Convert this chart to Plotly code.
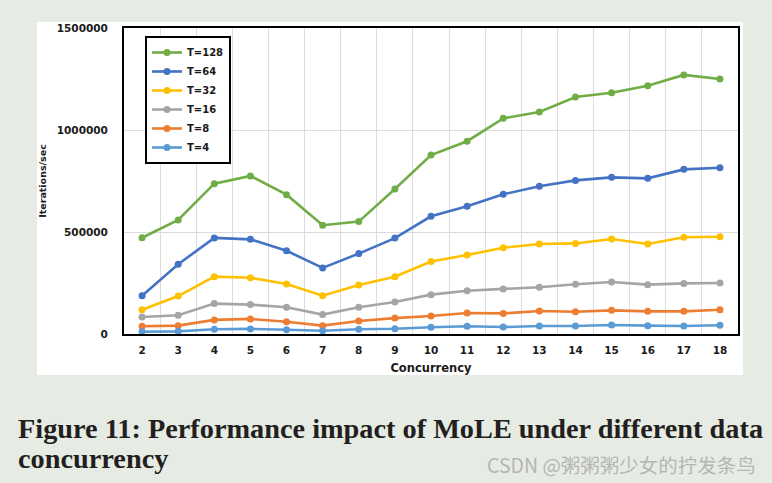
import plotly.graph_objects as go

concurrency = list(range(2, 19))

t128 = [472000, 559000, 737000, 775000, 683000, 533000, 551000, 711000, 877000,
        945000, 1057000, 1088000, 1162000, 1183000, 1217000, 1270000, 1250000]
t64 = [188000, 342000, 471000, 464000, 408000, 324000, 394000, 470000, 577000,
       626000, 685000, 724000, 753000, 768000, 763000, 807000, 815000]
t32 = [119000, 186000, 281000, 276000, 245000, 188000, 240000, 281000, 355000,
       387000, 423000, 441000, 444000, 466000, 441000, 474000, 477000]
t16 = [83000, 92000, 149000, 144000, 131000, 95000, 131000, 157000, 193000,
       212000, 221000, 229000, 244000, 255000, 242000, 248000, 250000]
t8 = [38000, 41000, 69000, 74000, 60000, 41000, 64000, 78000, 88000,
      103000, 101000, 113000, 109000, 116000, 111000, 111000, 119000]
t4 = [11000, 13000, 23000, 25000, 21000, 16000, 23000, 26000, 33000,
      38000, 34000, 39000, 39000, 44000, 41000, 39000, 43000]

series_names = ["T=128", "T=64", "T=32", "T=16", "T=8", "T=4"]
series_values = [t128, t64, t32, t16, t8, t4]
series_colors = ["#70ad47", "#4472c4", "#ffc000", "#a5a5a5", "#ed7d31", "#5b9bd5"]

y_ticks = [0, 500000, 1000000, 1500000]
y_tick_labels = ["0", "500000", "1000000", "1500000"]

caption_line1 = "Figure 11: Performance impact of MoLE under different data"
caption_line2 = "concurrency"
watermark = "CSDN @粥粥粥少女的拧发条鸟"

W, H = 772, 483
ML, MR, MT, MB = 124, 34, 28, 149
PW, PH = W - ML - MR, H - MT - MB


def px_x(px):
    return (px - ML) / PW


def px_y(py):
    return (H - MB - py) / PH


fig = go.Figure()
for name, vals, col in zip(series_names, series_values, series_colors):
    fig.add_trace(go.Scatter(
        x=concurrency, y=vals, name=name, mode="lines+markers",
        line=dict(color=col, width=2.6),
        marker=dict(color=col, size=7),
    ))

tick_font = dict(family="DejaVu Sans", size=10.5, color="#1a1a1a", weight="bold")

fig.update_layout(
    width=W, height=H,
    margin=dict(l=ML, r=MR, t=MT, b=MB, pad=0),
    paper_bgcolor="#e6ece3",
    plot_bgcolor="#ffffff",
    showlegend=True,
    legend=dict(
        x=px_x(145), y=px_y(36), xanchor="left", yanchor="top",
        bgcolor="#ffffff", bordercolor="#000000", borderwidth=2,
        font=dict(family="DejaVu Sans", size=10, color="#1a1a1a", weight="bold"),
        tracegroupgap=0,
    ),
    xaxis=dict(
        range=[1.5, 18.5], tickmode="array", tickvals=concurrency,
        ticktext=[str(c) for c in concurrency],
        showgrid=False, zeroline=False,
        showline=True, mirror=True, linecolor="#000000", linewidth=2,
        ticks="", tickfont=tick_font, ticklabelstandoff=5,
        minor=dict(tickmode="array", tickvals=[c + 0.5 for c in concurrency[:-1]],
                   showgrid=True, gridcolor="#dcdcdc", gridwidth=1, ticks=""),
        title=dict(text="Concurrency", standoff=9,
                   font=dict(family="DejaVu Sans", size=11.5, color="#1a1a1a", weight="bold")),
    ),
    yaxis=dict(
        range=[0, 1500000], tickmode="array", tickvals=y_ticks, ticktext=y_tick_labels,
        showgrid=True, gridcolor="#dcdcdc", gridwidth=1, zeroline=False,
        showline=True, mirror=True, linecolor="#000000", linewidth=2,
        ticks="", tickfont=tick_font, ticklabelstandoff=12,
        title=dict(text="Iterations/sec", standoff=8,
                   font=dict(family="DejaVu Sans", size=9.5, color="#1a1a1a", weight="bold")),
    ),
    shapes=[dict(
        type="rect", xref="paper", yref="paper", layer="below",
        x0=px_x(37), x1=px_x(743), y0=px_y(375), y1=px_y(22),
        fillcolor="#ffffff", line=dict(width=0),
    )],
    annotations=[
        dict(text=caption_line1, xref="paper", yref="paper", showarrow=False,
             x=px_x(16), y=px_y(428), xanchor="left", yanchor="middle",
             font=dict(family="Liberation Serif", size=28.3, color="#231f20", weight="bold")),
        dict(text=caption_line2, xref="paper", yref="paper", showarrow=False,
             x=px_x(16), y=px_y(459), xanchor="left", yanchor="middle",
             font=dict(family="Liberation Serif", size=28.3, color="#231f20", weight="bold")),
        dict(text=watermark, xref="paper", yref="paper", showarrow=False,
             x=px_x(485), y=px_y(464), xanchor="left", yanchor="middle",
             font=dict(family="Noto Sans CJK SC", size=19.5, color="#b5b5b5")),
    ],
)

fig.write_html("out.html", config={"displayModeBar": False},
               post_script="document.body.style.margin='0';")
